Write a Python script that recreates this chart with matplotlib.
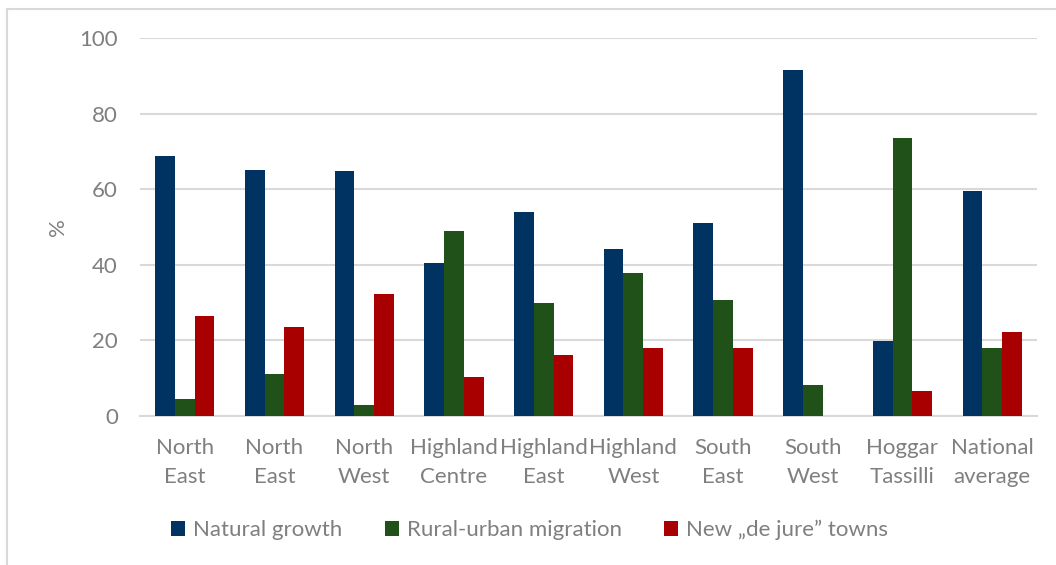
import numpy as np
import matplotlib.pyplot as plt
from matplotlib.patches import Rectangle

# Data
regions = ["North\nEast", "North\nEast", "North\nWest", "Highland\nCentre", "Highland\nEast",
           "Highland\nWest", "South\nEast", "South\nWest", "Hoggar\nTassilli", "National\naverage"]
natural_growth = [68.8, 65.0, 64.7, 40.6, 54.0, 44.2, 51.0, 91.5, 19.8, 59.5]
rural_urban = [4.4, 11.1, 2.9, 49.0, 29.8, 37.7, 30.8, 8.1, 73.5, 18.1]
new_towns = [26.5, 23.6, 32.2, 10.2, 16.1, 17.9, 18.1, 0.0, 6.6, 22.1]
series_names = ["Natural growth", "Rural-urban migration", "New \u201ede jure\u201d towns"]
colors = ["#003262", "#1f5118", "#a80000"]

plt.rcParams['font.family'] = ['Lato', 'DejaVu Sans']
grey = "#7f7f7f"
fs = 16

fig = plt.figure(figsize=(10.56, 5.65), dpi=100)
ax = fig.add_axes([140/1056, 1-416/565, 897/1056, 378/565])

# outer frame of the chart area
fig.patches.append(Rectangle((7/1056, -0.1), 1.2, 1 - 9/565 + 0.1, transform=fig.transFigure,
                             fill=False, edgecolor="#d9d9d9", linewidth=1.5))

x = np.arange(len(regions))
w = 0.22
for i, (vals, name) in enumerate(zip([natural_growth, rural_urban, new_towns], series_names)):
    ax.bar(x + (i - 1) * w, vals, width=w, color=colors[i], label=name, zorder=3)

ax.set_xlim(-0.5, len(regions) - 0.5)
ax.set_ylim(0, 100)
ax.set_yticks([0, 20, 40, 60, 80, 100])
ax.set_xticks(x)
ax.set_xticklabels(regions, linespacing=1.55)
ax.tick_params(axis='both', length=0, labelsize=fs, labelcolor=grey)
ax.tick_params(axis='y', pad=16)
ax.tick_params(axis='x', pad=16)
ax.grid(axis='y', color="#d9d9d9", linewidth=1.5, zorder=0)
for s in ["top", "right", "left"]:
    ax.spines[s].set_visible(False)
ax.spines["bottom"].set_color("#d9d9d9")
ax.spines["bottom"].set_linewidth(1.5)
ax.set_ylabel("%", fontsize=fs, color=grey)
ax.yaxis.set_label_coords(-72/897, 0.5)

fig.legend(loc="center", bbox_to_anchor=(0.5015, 1 - 530/565), ncol=3, frameon=False,
           fontsize=fs, labelcolor=grey, handlelength=0.65, handleheight=0.65,
           handletextpad=0.35, columnspacing=1.9)

fig.savefig("out.png", dpi=100)
